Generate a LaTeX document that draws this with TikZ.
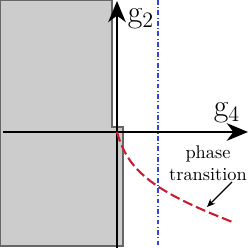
\documentclass[tikz,border=0pt]{standalone}
\usepackage{amsmath,amssymb}
\usetikzlibrary{arrows.meta}

\definecolor{regiongray}{gray}{0.8}
\definecolor{transred}{RGB}{200,30,50}
\definecolor{lineblue}{RGB}{50,70,220}

\begin{document}
\begin{tikzpicture}[x=0.545pt,y=-0.545pt]

\useasboundingbox (0,0) rectangle (249,248);

% shaded region
\draw[fill=regiongray,draw=black!60,line width=0.6pt]
  (0.5,0.5) -- (112,0.5) -- (112,127) -- (123,127) -- (123,246) -- (0.5,246) -- cycle;

% vertical dash-dot line
\draw[lineblue,line width=0.55pt,dash pattern=on 2.6pt off 1.3pt on 0.5pt off 1.3pt]
  (158,0) -- (158,248);

% axes
\coordinate (o) at (117,132);
\draw[line width=1.6pt,-{Stealth[length=11.5pt,width=9.5pt,inset=3.5pt]}] (3,132) -- (248,132);
\draw[line width=1.6pt,-{Stealth[length=11.5pt,width=9.5pt,inset=3.5pt]}] (117,248) -- (117,1);
\node[inner sep=0.5pt] (g4) at (227,113) {\LARGE g$_4$};
\node[inner sep=0.5pt] (g2) at (141,19) {\LARGE g$_2$};

% phase transition line
\draw[transred,line width=1.15pt,dash pattern=on 5.5pt off 2.2pt]
  (o) .. controls (128,172) and (155,192) .. (235,223);

% label
\node[align=center,inner sep=1pt] (pt) at (208,163) {phase\\transition};
\coordinate (tip) at (207,207);
\draw[line width=0.6pt,-{Stealth[length=4.5pt,width=3.8pt]}] (232,182) -- (tip);

\end{tikzpicture}
\end{document}
